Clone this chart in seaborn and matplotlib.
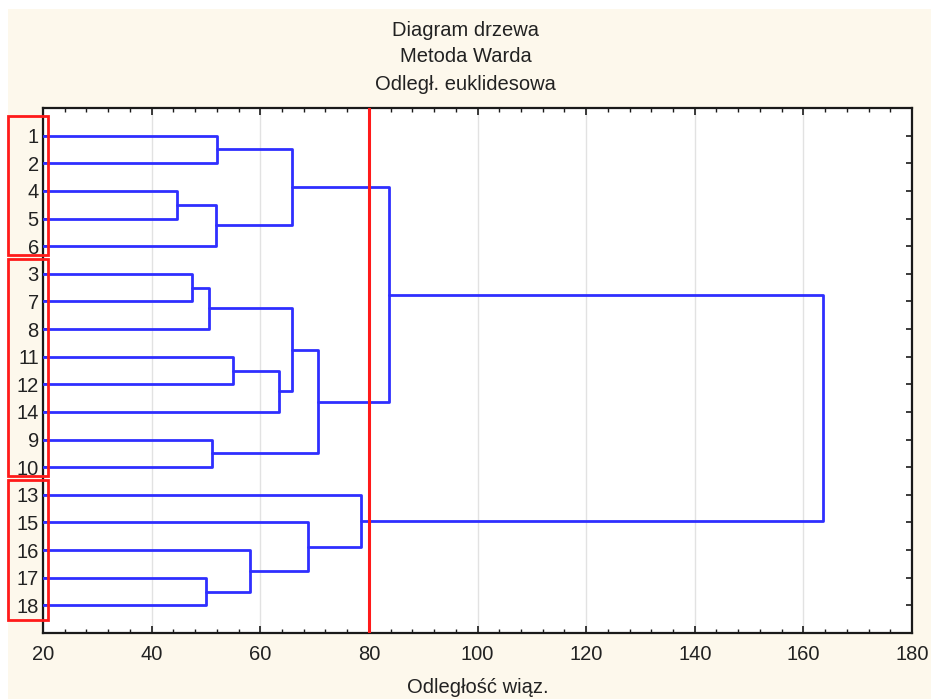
import numpy as np
import pandas as pd
import matplotlib
matplotlib.use("Agg")
import matplotlib.pyplot as plt
import matplotlib.transforms as mtransforms
from matplotlib.patches import Rectangle
from matplotlib.ticker import MultipleLocator
import seaborn as sns

# leaf order (top to bottom) as shown on the chart
leaf_labels = ['1', '2', '4', '5', '6', '3', '7', '8', '11', '12', '14',
               '9', '10', '13', '15', '16', '17', '18']

# merges: node ids 0..17 are leaves (in display order), new clusters get 18, 19, ...
merge_left = [0, 2, 19, 18, 5, 22, 8, 24, 23, 11, 26, 21, 16, 15, 14, 13, 29]
merge_right = [1, 3, 4, 20, 6, 7, 9, 10, 25, 12, 27, 28, 17, 30, 31, 32, 33]
merge_height = [52.0, 44.7, 51.8, 65.9, 47.4, 50.6, 55.0, 63.4, 65.9, 51.1,
                70.7, 83.7, 50.0, 58.2, 68.7, 78.6, 163.7]

cut_level = 80
# leaf groups framed in red (first / last leaf index in display order)
group_first = [0, 5, 13]
group_last = [4, 12, 17]

x_min, x_max = 20, 180


def build_segments():
    """Turn the merge list into line segments (x = distance, y = leaf position)."""
    n = len(leaf_labels)
    pos = {i: (float(x_min), float(i + 1)) for i in range(n)}
    rows = []
    seg = 0
    for k, (a, b, h) in enumerate(zip(merge_left, merge_right, merge_height)):
        xa, ya = pos[a]
        xb, yb = pos[b]
        for x, y in [(xa, ya), (h, ya), (h, yb), (xb, yb)]:
            rows.append({'x': x, 'y': y, 'seg': seg})
        seg += 1
        pos[n + k] = (h, (ya + yb) / 2)
    return pd.DataFrame(rows)


def main():
    sns.set_theme(style='white')
    plt.rcParams['font.family'] = ['Liberation Sans', 'DejaVu Sans']

    bg = '#fdf8ec'
    text_col = '#222222'
    fig = plt.figure(figsize=(9.31, 6.99), dpi=100, facecolor='white')
    # cream panel (white strip at top and left edges)
    fig.patches.append(Rectangle((8 / 931, 0), 1, 1 - 9 / 699, transform=fig.transFigure,
                                 facecolor=bg, edgecolor='none', zorder=-10))

    ax = fig.add_axes([43 / 931, 1 - 633 / 699, 869 / 931, 525 / 699])
    ax.set_facecolor('white')

    segs = build_segments()
    sns.lineplot(data=segs, x='x', y='y', units='seg', estimator=None, sort=False,
                 color='#2f2fff', linewidth=2.0, ax=ax, zorder=3)

    ax.axvline(cut_level, color='#ff1a1a', linewidth=2.2, zorder=4)

    n = len(leaf_labels)
    ax.set_xlim(x_min, x_max)
    ax.set_ylim(n + 1, 0)
    ax.xaxis.set_major_locator(MultipleLocator(20))
    ax.xaxis.set_minor_locator(MultipleLocator(4))
    ax.set_yticks(np.arange(1, n + 1))
    ax.set_yticklabels(leaf_labels)

    ax.grid(True, axis='x', color='#e2e2e2', linewidth=1.0, zorder=0)
    ax.grid(False, axis='y')

    for s in ax.spines.values():
        s.set_color('#1a1a1a')
        s.set_linewidth(1.6)
        s.set_visible(True)

    ax.tick_params(axis='x', which='major', direction='in', length=5, width=1.2,
                   top=True, bottom=True, labelsize=14.5, colors='#1a1a1a',
                   labelcolor=text_col, pad=9)
    ax.tick_params(axis='x', which='minor', direction='in', length=3, width=1.0,
                   top=True, bottom=True, colors='#1a1a1a')
    ax.tick_params(axis='y', which='major', direction='in', length=4, width=1.2,
                   left=True, right=True, labelsize=14.5, colors='#1a1a1a',
                   labelcolor=text_col, pad=3)

    ax.set_xlabel('Odległość wiąz.', fontsize=14.5, color=text_col, labelpad=9.5)
    ax.set_ylabel('')

    fig.text(0.5, 1 - 30 / 699, 'Diagram drzewa', ha='center', va='center',
             fontsize=14.5, color=text_col)
    fig.text(0.5, 1 - 57 / 699, 'Metoda Warda', ha='center', va='center',
             fontsize=14.5, color=text_col)
    fig.text(0.5, 1 - 84 / 699, 'Odległ. euklidesowa', ha='center', va='center',
             fontsize=14.5, color=text_col)

    # red frames around leaf groups (x in axes fraction, y in data)
    trans = mtransforms.blended_transform_factory(ax.transAxes, ax.transData)
    x0 = (8 - 43) / 869
    x1 = (48 - 43) / 869
    for first, last in zip(group_first, group_last):
        top = first + 0.45 if first > 0 else 0.28
        bottom = last + 1.32 if last < n - 1 else n + 0.54
        ax.add_patch(Rectangle((x0, top), x1 - x0, bottom - top, transform=trans,
                               fill=False, edgecolor='#ff1a1a', linewidth=2.0,
                               clip_on=False, zorder=5))

    fig.savefig('out.png', dpi=100, facecolor=fig.get_facecolor())
    plt.close(fig)


if __name__ == '__main__':
    main()
